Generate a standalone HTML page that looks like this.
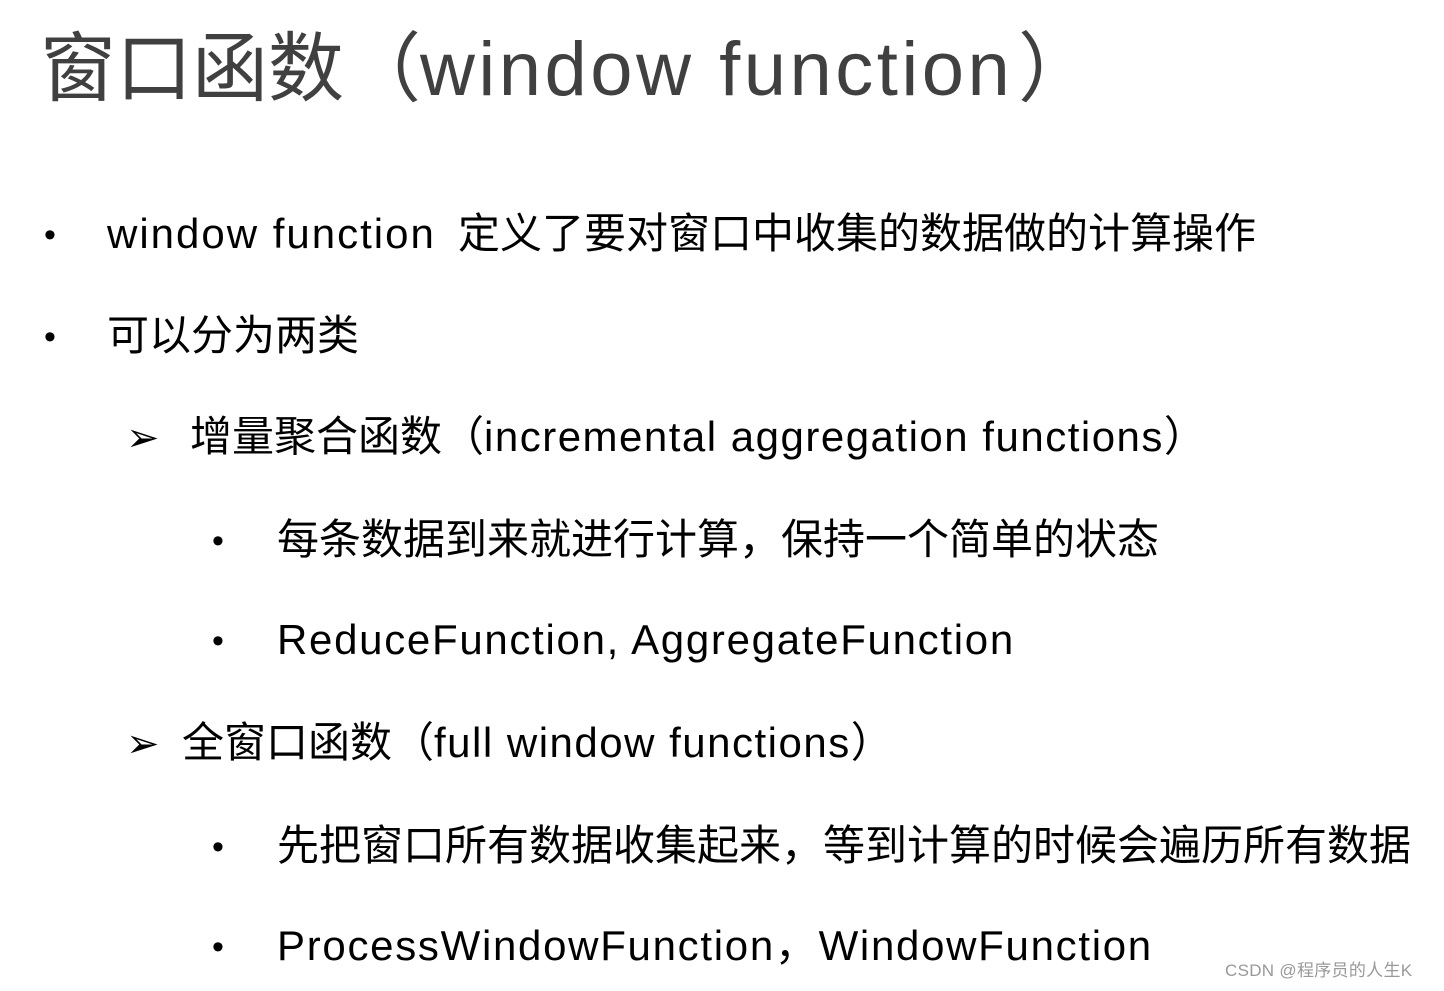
<!DOCTYPE html>
<html><head><meta charset="utf-8">
<style>
html,body{margin:0;padding:0;background:#fff;}
body{width:1444px;height:991px;position:relative;overflow:hidden;font-family:"Liberation Sans","Noto Sans CJK SC",sans-serif;}
.t{position:absolute;white-space:nowrap;line-height:1;}
.h{font-size:76px;color:#404040;}
.b{font-size:42px;color:#000;}
.w{font-size:17px;color:#999;}
.d{font-size:34px;}
</style></head><body>
<div class="t h" style="left:40px;top:32px;">窗口函数</div>
<div class="t h" style="left:345px;top:32px;">（</div>
<div class="t h" style="left:420px;top:32px;letter-spacing:3.5px;">window function</div>
<div class="t h" style="left:1018px;top:32px;">）</div>

<div class="t b d" style="left:44px;top:218px;">•</div>
<div class="t b" style="left:107px;top:213px;letter-spacing:2px;">window function</div>
<div class="t b" style="left:458px;top:213px;">定义了要对窗口中收集的数据做的计算操作</div>

<div class="t b d" style="left:44px;top:320px;">•</div>
<div class="t b" style="left:107px;top:315px;">可以分为两类</div>

<div class="t b" style="left:126px;top:418px;font-size:40px;">➢</div>
<div class="t b" style="left:190px;top:416px;">增量聚合函数（<span style="letter-spacing:1.5px">incremental aggregation functions</span>）</div>

<div class="t b d" style="left:212px;top:524px;">•</div>
<div class="t b" style="left:277px;top:519px;">每条数据到来就进行计算，保持一个简单的状态</div>

<div class="t b d" style="left:212px;top:624px;">•</div>
<div class="t b" style="left:277px;top:619px;letter-spacing:1.7px;">ReduceFunction, AggregateFunction</div>

<div class="t b" style="left:126px;top:724px;font-size:40px;">➢</div>
<div class="t b" style="left:182px;top:722px;">全窗口函数（<span style="letter-spacing:1.5px">full window functions</span>）</div>

<div class="t b d" style="left:212px;top:830px;">•</div>
<div class="t b" style="left:277px;top:825px;">先把窗口所有数据收集起来，等到计算的时候会遍历所有数据</div>

<div class="t b d" style="left:212px;top:930px;">•</div>
<div class="t b" style="left:277px;top:925px;letter-spacing:1.7px;">ProcessWindowFunction，WindowFunction</div>

<div class="t w" style="left:1225px;top:962px;letter-spacing:0.3px;">CSDN @程序员的人生K</div>
</body></html>
